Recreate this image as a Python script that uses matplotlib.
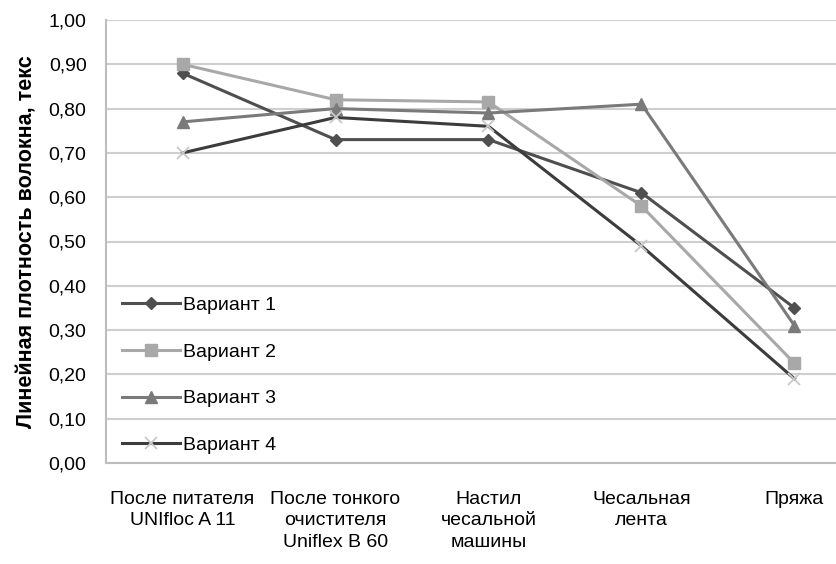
import matplotlib
matplotlib.use("Agg")
import matplotlib.pyplot as plt
from matplotlib.ticker import FuncFormatter

# --- Datos ---
etapas = ["После питателя\nUNIfloc A 11",
          "После тонкого\nочистителя\nUniflex B 60",
          "Настил\nчесальной\nмашины",
          "Чесальная\nлента",
          "Пряжа"]
variant_1 = [0.88, 0.73, 0.73, 0.61, 0.35]
variant_2 = [0.90, 0.82, 0.815, 0.58, 0.225]
variant_3 = [0.77, 0.80, 0.79, 0.81, 0.31]
variant_4 = [0.70, 0.78, 0.76, 0.49, 0.19]
nombres = ["Вариант 1", "Вариант 2", "Вариант 3", "Вариант 4"]

plt.rcParams['font.family'] = ['Liberation Sans', 'DejaVu Sans']

fig = plt.figure(figsize=(8.37, 5.64), dpi=100)
# el área de trazado sobresale por la derecha, como en el original
ax = fig.add_axes([106 / 837, 101 / 564, 765 / 837, 443 / 564])

x = range(len(etapas))
ax.plot(x, variant_1, color='#4f4f4f', lw=2.2, marker='D', ms=6.5,
        mfc='#4f4f4f', mec='#4f4f4f', label=nombres[0])
ax.plot(x, variant_2, color='#a8a8a8', lw=2.2, marker='s', ms=8.5,
        mfc='#a8a8a8', mec='#a8a8a8', label=nombres[1])
ax.plot(x, variant_3, color='#7a7a7a', lw=2.2, marker='^', ms=8.5,
        mfc='#7a7a7a', mec='#7a7a7a', label=nombres[2])
ax.plot(x, variant_4, color='#3c3c3c', lw=2.2, marker='x', ms=9,
        mec='#c8c8c8', mew=1.3, label=nombres[3])

ax.set_xlim(-0.5, len(etapas) - 0.5)
ax.set_ylim(0, 1.0)
ax.set_yticks([i / 10 for i in range(11)])
ax.yaxis.set_major_formatter(FuncFormatter(lambda v, p: f"{v:.2f}".replace('.', ',')))
ax.set_xticks(list(x))
ax.set_xticklabels(etapas, fontsize=14, linespacing=1.35)
ax.tick_params(axis='y', labelsize=14, length=0, pad=14)
ax.tick_params(axis='x', length=0, pad=20)

ax.grid(axis='y', color='#cfcfcf', lw=1.5)
ax.set_axisbelow(True)
for s in ['top', 'right']:
    ax.spines[s].set_visible(False)
ax.spines['left'].set_color('#bdbdbd')
ax.spines['left'].set_linewidth(1.5)
ax.spines['bottom'].set_color('#bdbdbd')
ax.spines['bottom'].set_linewidth(1.5)

ax.set_ylabel("Линейная плотность волокна, текс", fontsize=15.5,
              fontweight='bold', labelpad=8)

ax.legend(loc='lower left', bbox_to_anchor=(0.009, 0.0), frameon=False,
          fontsize=14, handlelength=3.0, handletextpad=0.15,
          labelspacing=1.5, borderaxespad=0.05)

plt.savefig('out.png', dpi=100)
